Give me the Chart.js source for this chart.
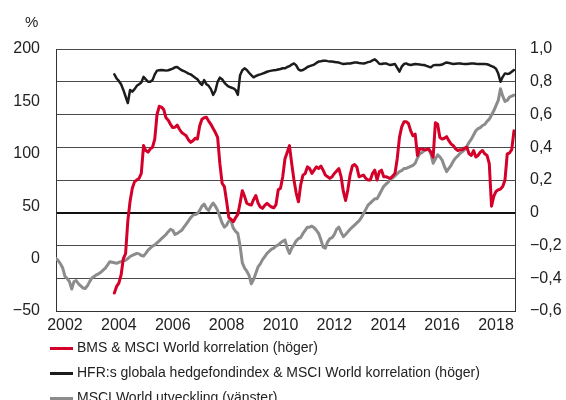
<!DOCTYPE html>
<html>
<head>
<meta charset="utf-8">
<script src="https://cdn.jsdelivr.net/npm/chart.js@4"></script>
<style>
  html, body { margin: 0; padding: 0; background: #fff; }
  #wrap { position: relative; width: 566px; height: 400px; font-family: "Liberation Sans", Arial, sans-serif; color: #222; }
  #pct { position: absolute; left: 25px; top: 13px; font-size: 15px; }
  #legend { position: absolute; left: 50px; top: 336px; font-size: 14px; }
  #legend div { height: 25px; line-height: 22px; white-space: nowrap; }
  #legend span.sw { display: inline-block; width: 23px; height: 3px; margin-right: 4px; vertical-align: middle; }
</style>
</head>
<body>
<div id="wrap">
  <canvas id="chart" width="566" height="400"></canvas>
  <div id="pct">%</div>
  <div id="legend"></div>
</div>
<script>
// monthly observations, first one September 2001
var startYear = 2001 + 8 / 12;
var corrStart = 26; // correlation series begin November 2003

var xTicks = [2002, 2004, 2006, 2008, 2010, 2012, 2014, 2016, 2018];
var leftTicks = [-50, 0, 50, 100, 150, 200];
var rightTicks = [-0.6, -0.4, -0.2, 0, 0.2, 0.4, 0.6, 0.8, 1.0];

var seriesLabels = [
  'BMS & MSCI World korrelation (höger)',
  'HFR:s globala hedgefondindex & MSCI World korrelation (höger)',
  'MSCI World utveckling (vänster)'
];
var seriesColors = ['#d4002a', '#1c1c1c', '#8c8c8c'];

var msciWorld = [
  0, -2, -5, -9, -17, -19, -22, -29, -22, -21,
  -24, -26, -28, -28.5, -26, -22, -18.5, -17, -15.5, -14.5,
  -13, -11, -9, -6, -3, -3.5, -4, -4.5, -3.5, -3,
  -2, -1.5, 0, 2, 3, 4, 5, 4.5, 3, 2.5,
  5, 8, 10, 12, 13, 15, 17, 19, 21, 23,
  25.7, 28, 27, 23, 24, 25.5, 27, 30, 33, 36,
  39, 41.5, 42, 43, 46, 50, 52, 48, 46, 50,
  53, 50, 46, 40, 34, 30, 32, 36, 36, 29,
  26, 24, 12, -4, -9, -12, -16, -24, -20, -14,
  -8, -5, -1, 2, 5, 7, 9, 10, 12, 13,
  15, 16.5, 17.8, 10, 5, 10, 13, 17, 19, 20,
  24, 27, 30, 30, 31, 29.5, 27, 24, 18, 11,
  10, 16, 19, 20, 23, 28, 30, 25, 21, 23,
  25.5, 28, 30, 32, 34, 36, 39, 43, 47, 51,
  53, 55, 57, 57, 61, 65, 69, 71, 73, 76,
  77, 79, 81, 83, 84, 86, 86, 87, 88, 89,
  91, 96, 100, 101, 103, 104, 104, 100, 91, 95,
  99, 97, 94, 88, 83, 86, 89, 93, 96, 98,
  100.5, 102, 104, 107, 111, 114, 118, 122, 124, 125,
  127, 128, 131, 133, 137, 141, 146, 151, 162, 155,
  150, 151, 154, 155, 156
];

var bmsCorr = [
  -0.49, -0.45, -0.43, -0.38,
  -0.28, -0.25, -0.05, 0.07, 0.15, 0.19, 0.2, 0.21, 0.24, 0.41,
  0.38, 0.37, 0.39, 0.40, 0.45, 0.60, 0.65, 0.645, 0.63, 0.58,
  0.565, 0.54, 0.52, 0.522, 0.535, 0.51, 0.49, 0.48, 0.47, 0.445,
  0.43, 0.44, 0.455, 0.45, 0.53, 0.571, 0.58, 0.583, 0.56, 0.54,
  0.515, 0.49, 0.46, 0.30, 0.18, 0.16, 0.07, -0.03, -0.04, -0.055,
  -0.03, -0.01, 0.06, 0.135, 0.10, 0.058, 0.05, 0.047, 0.08, 0.105,
  0.06, 0.035, 0.027, 0.045, 0.058, 0.045, 0.035, 0.03, 0.05, 0.14,
  0.15, 0.22, 0.33, 0.37, 0.41, 0.30, 0.2, 0.12, 0.067, 0.17,
  0.23, 0.24, 0.28, 0.27, 0.24, 0.26, 0.28, 0.27, 0.285, 0.26,
  0.23, 0.22, 0.21, 0.22, 0.24, 0.255, 0.27, 0.22, 0.13, 0.075,
  0.14, 0.23, 0.285, 0.295, 0.28, 0.22, 0.225, 0.23, 0.21, 0.2,
  0.2, 0.24, 0.26, 0.2, 0.25, 0.26, 0.22, 0.22, 0.215, 0.21,
  0.225, 0.24, 0.33, 0.46, 0.525, 0.555, 0.556, 0.545, 0.5, 0.47,
  0.48, 0.35, 0.39, 0.39, 0.385, 0.385, 0.39, 0.37, 0.34, 0.55,
  0.54, 0.46, 0.45, 0.455, 0.465, 0.44, 0.42, 0.41, 0.39, 0.38,
  0.385, 0.385, 0.395, 0.40, 0.36, 0.35, 0.38, 0.34, 0.35, 0.37,
  0.38, 0.36, 0.35, 0.30, 0.04, 0.10, 0.13, 0.14, 0.145, 0.16,
  0.2, 0.36, 0.365, 0.385, 0.50
];

var hfrCorr = [
  0.845, 0.82, 0.805, 0.785,
  0.75, 0.71, 0.67, 0.75, 0.74, 0.755, 0.775, 0.785, 0.795, 0.83,
  0.815, 0.80, 0.80, 0.81, 0.845, 0.868, 0.87, 0.872, 0.87, 0.868,
  0.87, 0.875, 0.88, 0.888, 0.89, 0.88, 0.87, 0.865, 0.858, 0.85,
  0.845, 0.835, 0.825, 0.815, 0.795, 0.78, 0.81, 0.785, 0.775, 0.755,
  0.72, 0.745, 0.80, 0.825, 0.815, 0.795, 0.78, 0.77, 0.765, 0.76,
  0.75, 0.72, 0.84, 0.87, 0.882, 0.872, 0.855, 0.84, 0.827, 0.835,
  0.841, 0.845, 0.85, 0.855, 0.861, 0.865, 0.868, 0.87, 0.872, 0.875,
  0.878, 0.882, 0.882, 0.89, 0.895, 0.905, 0.912, 0.90, 0.875, 0.868,
  0.872, 0.88, 0.89, 0.895, 0.90, 0.905, 0.915, 0.923, 0.925, 0.928,
  0.929, 0.926, 0.924, 0.923, 0.921, 0.919, 0.917, 0.912, 0.908, 0.91,
  0.911, 0.912, 0.915, 0.917, 0.918, 0.915, 0.913, 0.912, 0.915, 0.92,
  0.923, 0.93, 0.937, 0.925, 0.91, 0.908, 0.911, 0.912, 0.906, 0.902,
  0.905, 0.908, 0.885, 0.862, 0.892, 0.908, 0.912, 0.905, 0.902, 0.905,
  0.908, 0.907, 0.905, 0.903, 0.902, 0.897, 0.892, 0.888, 0.90, 0.902,
  0.902, 0.902, 0.905, 0.912, 0.918, 0.915, 0.911, 0.908, 0.91, 0.911,
  0.912, 0.91, 0.909, 0.908, 0.91, 0.911, 0.912, 0.91, 0.909, 0.908,
  0.908, 0.908, 0.907, 0.902, 0.895, 0.89, 0.88, 0.85, 0.80, 0.83,
  0.851, 0.848, 0.85, 0.861, 0.872
];

function toPoints(values, offset) {
  return values.map(function (v, i) {
    return { x: startYear + (offset + i) / 12, y: v };
  });
}

function fmtRight(v) {
  if (v === 0) return '0';
  return v.toFixed(1).replace('.', ',').replace('-', '\u2212');
}

var font = { family: '"Liberation Sans", Arial, sans-serif', size: 16 };

new Chart(document.getElementById('chart'), {
  type: 'line',
  data: {
    datasets: [{
      label: seriesLabels[0],
      data: toPoints(bmsCorr, corrStart),
      yAxisID: 'y1',
      borderColor: seriesColors[0],
      borderWidth: 3,
      order: 2
    }, {
      label: seriesLabels[1],
      data: toPoints(hfrCorr, corrStart),
      yAxisID: 'y1',
      borderColor: seriesColors[1],
      borderWidth: 2.5,
      order: 1
    }, {
      label: seriesLabels[2],
      data: toPoints(msciWorld, 0),
      yAxisID: 'y',
      borderColor: seriesColors[2],
      borderWidth: 3,
      order: 3
    }]
  },
  options: {
    responsive: false,
    animation: false,
    events: [],
    elements: { point: { radius: 0 }, line: { tension: 0, borderJoinStyle: 'round', borderCapStyle: 'round' } },
    layout: { padding: { top: 49, left: 0, right: 0, bottom: 0 } },
    plugins: { legend: { display: false }, tooltip: { enabled: false } },
    scales: {
      x: {
        type: 'linear',
        min: 2001.667,
        max: 2018.705,
        afterBuildTicks: function (axis) { axis.ticks = xTicks.map(function (v) { return { value: v }; }); },
        afterFit: function (axis) { axis.height = 89; },
        grid: { display: false, drawTicks: false },
        border: { color: '#333', width: 1 },
        ticks: { color: '#222', font: font, padding: 5, maxRotation: 0, autoSkip: false,
                 callback: function (v) { return String(v); } }
      },
      y: {
        position: 'left',
        min: -50,
        max: 200,
        afterBuildTicks: function (axis) { axis.ticks = leftTicks.map(function (v) { return { value: v }; }); },
        afterFit: function (axis) { axis.width = 56; },
        grid: { display: false, drawTicks: false },
        border: { color: '#333', width: 1 },
        ticks: { color: '#222', font: font, padding: 16,
                 callback: function (v) { return String(v).replace('-', '\u2212'); } }
      },
      y1: {
        position: 'right',
        min: -0.6,
        max: 1.0,
        afterBuildTicks: function (axis) { axis.ticks = rightTicks.map(function (v) { return { value: v }; }); },
        afterFit: function (axis) { axis.width = 51; },
        grid: {
          drawTicks: false,
          color: function (c) { return c.tick && c.tick.value === 0 ? '#111' : '#4a4a4a'; },
          lineWidth: function (c) { return c.tick && c.tick.value === 0 ? 2 : 1; }
        },
        border: { color: '#333', width: 1 },
        ticks: { color: '#222', font: font, padding: 15, callback: fmtRight }
      }
    }
  }
});

var legend = document.getElementById('legend');
seriesLabels.forEach(function (label, i) {
  var row = document.createElement('div');
  var sw = document.createElement('span');
  sw.className = 'sw';
  sw.style.background = seriesColors[i];
  row.appendChild(sw);
  row.appendChild(document.createTextNode(label));
  legend.appendChild(row);
});
</script>
</body>
</html>
